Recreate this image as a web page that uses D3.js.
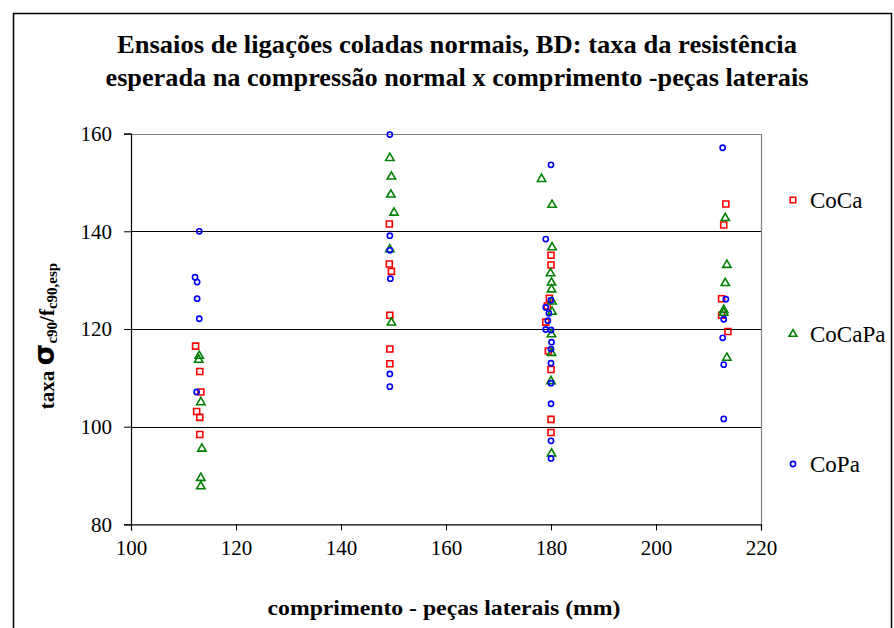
<!DOCTYPE html>
<html><head><meta charset="utf-8">
<script src="https://cdn.jsdelivr.net/npm/d3@7"></script>
<style>body{margin:0;background:#fff}svg{display:block}</style>
</head><body>
<svg id="c" width="894" height="628"></svg>
<script>
const titleLines = ["Ensaios de ligações coladas normais, BD: taxa da resistência",
                    "esperada na compressão normal x comprimento -peças laterais"];
const xTitle = "comprimento - peças laterais (mm)";
const xTicks = [100, 120, 140, 160, 180, 200, 220];
const yTicks = [80, 100, 120, 140, 160];
const seriesNames = ["CoCa", "CoCaPa", "CoPa"];
const coca = [
  [112.3,116.5],[113.1,111.3],[113.3,107.1],[112.5,103.1],[113.1,101.9],[113.1,98.4],
  [149.2,141.5],[149.2,133.3],[149.6,131.8],[149.3,122.8],[149.3,115.9],[149.3,112.9],
  [180.0,135.1],[180.0,133.1],[179.7,126.3],[179.3,124.7],[179.0,121.4],[179.5,115.5],[180.0,111.7],[180.0,101.5],[180.0,98.8],
  [213.3,145.6],[212.9,141.3],[212.5,126.2],[212.5,122.8],[213.7,119.5]
];
const cocapa = [
  [113.0,114.5],[112.9,113.7],[113.3,105.0],[113.5,95.5],[113.3,89.5],[113.3,87.8],
  [149.3,155.0],[149.6,151.2],[149.5,147.5],[150.1,143.8],[149.3,136.3],[149.6,121.3],
  [178.2,150.7],[180.2,145.4],[180.2,136.7],[179.9,131.4],[180.1,129.5],[180.1,128.1],[180.2,125.6],[180.2,123.5],[180.1,118.9],[180.1,115.1],[180.0,109.3],[180.1,94.5],
  [213.2,142.7],[213.5,133.1],[213.2,129.4],[212.9,123.9],[212.9,123.3],[213.5,114.1]
];
const copa = [
  [113.0,140.0],[112.2,130.6],[112.6,129.6],[112.6,126.2],[113.0,122.1],[112.5,107.1],
  [149.3,159.8],[149.3,139.1],[149.3,136.1],[149.4,130.3],[149.3,110.8],[149.3,108.2],
  [180.0,153.6],[179.0,138.4],[180.0,125.9],[179.0,124.4],[179.6,123.2],[179.4,121.7],[179.0,119.9],[180.0,119.8],[180.1,117.3],[180.0,115.9],[180.0,113.0],[180.0,108.9],[180.0,104.7],[180.0,97.1],[180.0,93.5],
  [212.7,157.1],[213.3,126.1],[212.9,122.0],[212.7,118.2],[212.9,112.7],[212.9,101.6]
];

const svg = d3.select("#c");
const serif = "'Liberation Serif','Times New Roman',serif";

// outer frame
svg.append("rect").attr("x",13.5).attr("y",13.5).attr("width",878).attr("height",640)
  .attr("fill","none").attr("stroke","#000").attr("stroke-width",1.5);

// title
titleLines.forEach((t,i)=>{
  svg.append("text").attr("x",457).attr("y",53+i*33).attr("text-anchor","middle")
    .attr("font-family",serif).attr("font-weight","bold").attr("font-size",26)
    .attr("textLength", i===0?680:703).attr("lengthAdjust","spacingAndGlyphs")
    .text(t);
});

const L=131, R=761, T=133.6, B=524.4;
const x = d3.scaleLinear().domain([100,220]).range([L,R]);
const y = d3.scaleLinear().domain([80,160]).range([B,T]);

// gridlines
svg.append("g").selectAll("line").data(yTicks.filter(v=>v>80 && v<160)).join("line")
  .attr("x1",L).attr("x2",R).attr("y1",d=>Math.round(y(d))+0.5).attr("y2",d=>Math.round(y(d))+0.5)
  .attr("stroke","#000").attr("stroke-width",1);
// plot border top/right
svg.append("path").attr("d",`M${L},${Math.round(T)+0.5}H${R+0.5}V${B}`)
  .attr("fill","none").attr("stroke","#808080").attr("stroke-width",1.2);

// axes
const xAxis = d3.axisBottom(x).tickValues(xTicks).tickSize(6).tickPadding(10).tickFormat(d3.format("d"));
const gx = svg.append("g").attr("transform",`translate(0,${B})`).call(xAxis);
const yAxis = d3.axisLeft(y).tickValues(yTicks).tickSize(7).tickPadding(12).tickFormat(d3.format("d"));
const gy = svg.append("g").attr("transform",`translate(${L},0)`).call(yAxis);
[gx,gy].forEach(g=>{
  g.select(".domain").attr("stroke","#000").attr("stroke-width",1.2);
  g.selectAll(".tick line").attr("stroke","#000");
  g.selectAll("text").attr("font-family",serif).attr("font-size",21).attr("fill","#000");
});
gx.selectAll(".tick text").attr("dy","0.71em");

// axis titles
svg.append("text").attr("x",444).attr("y",615).attr("text-anchor","middle")
  .attr("font-family",serif).attr("font-weight","bold").attr("font-size",21)
  .attr("textLength",353).attr("lengthAdjust","spacingAndGlyphs").text(xTitle);

const yt = svg.append("text").attr("transform","translate(54,336) rotate(-90)")
  .attr("text-anchor","middle").attr("font-family",serif).attr("font-weight","bold").attr("font-size",21);
yt.append("tspan").text("taxa ");
yt.append("tspan").attr("font-family","'DejaVu Sans',sans-serif").attr("font-size",28).text("σ");
yt.append("tspan").attr("font-size",15).attr("dy",3).text("c90");
yt.append("tspan").attr("dy",-3).text("/f");
yt.append("tspan").attr("font-size",15).attr("dy",3).text("c90,esp");

// markers
const red="#ff0000", green="#008000", blue="#0000ff";
const sq = d3.symbol().type(d3.symbolSquare).size(36);
const tri = d3.symbol().type(d3.symbolTriangle).size(30);
const plot = svg.append("g");
plot.selectAll(".coca").data(coca).join("path").attr("class","coca")
  .attr("d",sq).attr("transform",d=>`translate(${x(d[0])},${y(d[1])})`)
  .attr("fill","none").attr("stroke",red).attr("stroke-width",1.6);
plot.selectAll(".cocapa").data(cocapa).join("path").attr("class","cocapa")
  .attr("d",tri).attr("transform",d=>`translate(${x(d[0])},${y(d[1])})`)
  .attr("fill","none").attr("stroke",green).attr("stroke-width",1.6);
plot.selectAll(".copa").data(copa).join("circle").attr("class","copa")
  .attr("cx",d=>x(d[0])).attr("cy",d=>y(d[1])).attr("r",2.6)
  .attr("fill","none").attr("stroke",blue).attr("stroke-width",1.6);

// legend
const legY = [200, 334, 464];
const leg = svg.append("g");
seriesNames.forEach((n,i)=>{
  const g = leg.append("g").attr("transform",`translate(793,${legY[i]})`);
  if(i===0) g.append("path").attr("d",d3.symbol().type(d3.symbolSquare).size(30)).attr("fill","none").attr("stroke",red).attr("stroke-width",1.6);
  if(i===1) g.append("path").attr("d",d3.symbol().type(d3.symbolTriangle).size(26)).attr("fill","none").attr("stroke",green).attr("stroke-width",1.6);
  if(i===2) g.append("circle").attr("r",2.6).attr("fill","none").attr("stroke",blue).attr("stroke-width",1.6);
  g.append("text").attr("x",17).attr("y",8).attr("font-family",serif).attr("font-size",23).text(n);
});
</script>
</body></html>
